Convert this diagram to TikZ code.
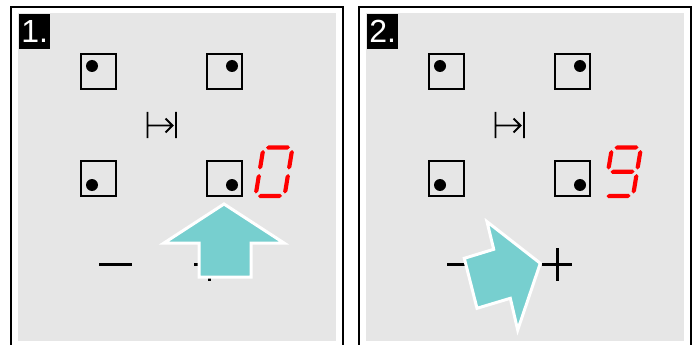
\documentclass[tikz,border=0pt]{standalone}
\usepackage{fontspec}
\setmainfont{Liberation Sans}
\definecolor{panelgray}{RGB}{230,230,230}
\definecolor{handteal}{RGB}{119,207,207}
\definecolor{segred}{RGB}{255,0,0}

% seven-segment pieces, local frame with y up
\newcommand\hseg[3]{\fill[segred] (#1,#3) -- (#1+2.1,#3+2.1) -- (#2-2.1,#3+2.1) -- (#2,#3) -- (#2-2.1,#3-2.1) -- (#1+2.1,#3-2.1) -- cycle;}
\newcommand\vseg[3]{\fill[segred] (#1,#2) -- (#1+2.1,#2+2.1) -- (#1+2.1,#3-2.1) -- (#1,#3) -- (#1-2.1,#3-2.1) -- (#1-2.1,#2+2.1) -- cycle;}

% one hob panel: #1 shift, #2 number, #3 extra content
\newcommand\hobpanel[3]{%
  \begin{scope}[shift={(#1,0)}]
    \draw[frame] (11,7) rectangle (343,352);
    \fill[field] (18,13) rectangle (336,341);
    \node[numbox, anchor=north west] (num#2) at (19,14) {#2.};
    \foreach \zx/\zy/\dx/\dy in {81/54/11/12, 207/54/25/12, 81/161/11/24, 207/161/25/24}
      {\draw[zone] (\zx,\zy) rectangle ++(35,35);
       \fill (\zx+\dx,\zy+\dy) circle (6);}
    % timer symbol
    \draw[line width=1.8pt] (147.5,112) -- (147.5,138) (176,112) -- (176,138)
      (148,125.5) -- (172.5,125.5) (165.5,118.5) -- (172.5,125.5) -- (165.5,132.5);
    \draw[key] (99,264) -- (132,264);
    \draw[key] (194,264) -- (224,264) (209,248) -- (209,281);
    #3
  \end{scope}}

\begin{document}
\begin{tikzpicture}[x=1pt, y=-1pt,
  frame/.style={draw=black, line width=1.6pt, fill=white},
  field/.style={fill=panelgray},
  numbox/.style={fill=black, text=white, inner sep=0pt, minimum width=31pt,
    minimum height=35pt, font=\fontsize{32}{32}\selectfont},
  zone/.style={draw=black, line width=2.2pt},
  key/.style={line width=3pt},
  pointer/.style={fill=handteal, draw=white, line width=3pt, line join=miter}]

  \clip (0,0) rectangle (694,345);
  \fill[white] (0,0) rectangle (694,345);

  \hobpanel{0}{1}{%
    \begin{scope}[shift={(255.5,196)}, y=1pt, xslant=0.165]
      \hseg{2.5}{26.5}{48.5} \vseg{29}{26.5}{46} \vseg{29}{2.5}{22}
      \hseg{2.5}{26.5}{0} \vseg{0}{2.5}{22} \vseg{0}{26.5}{46}
    \end{scope}
    \draw[pointer] (224,204) -- (284,243) -- (251,243) -- (251,277)
      -- (199,277) -- (199,243) -- (164,243) -- cycle;}

  \hobpanel{348}{2}{%
    \begin{scope}[shift={(256,196)}, y=1pt, xslant=0.165]
      \hseg{2.5}{26.5}{48.5} \vseg{29}{26.5}{46} \vseg{29}{2.5}{22}
      \hseg{2.5}{26.5}{0} \vseg{0}{26.5}{46} \hseg{2.5}{26.5}{24.25}
    \end{scope}
    \draw[pointer] (192.3,263.3) -- (169.7,330) -- (162.3,298.3) -- (129,308.3)
      -- (116.3,258.3) -- (145.7,249.3) -- (139,221.7) -- cycle;}
\end{tikzpicture}
\end{document}
